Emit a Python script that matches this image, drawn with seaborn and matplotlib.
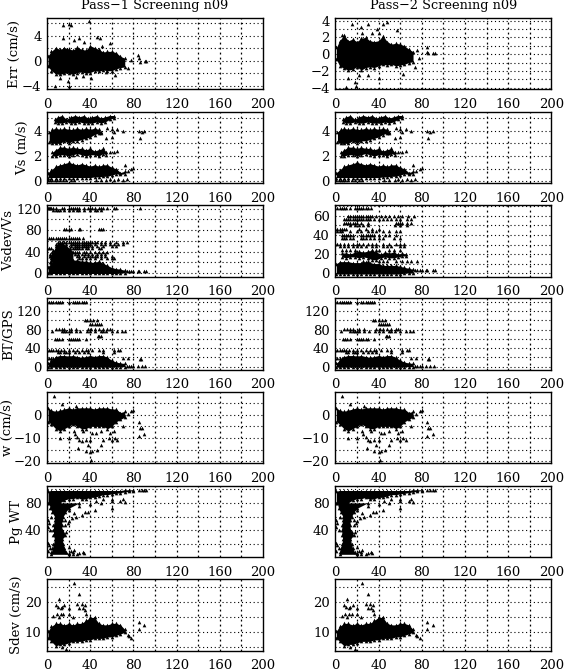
# Pass-1 / Pass-2 screening scatter panels.
# The solid clouds are kept as upper / lower edges, sparse points as x,y or rows.
import matplotlib
matplotlib.use("Agg")
import matplotlib.pyplot as plt
import seaborn as sns

cx = [1, 4, 8, 12, 16, 20, 24, 28, 32, 36, 40, 44, 48, 52, 56, 60, 64, 68, 72]

# Err, pass 1
err1_hi = [0.8, 1.5, 2.1, 1.8, 2.1, 1.9, 1.7, 2.2, 1.8, 1.7, 2.4, 2.1, 1.8, 1.4, 1.5, 1.5, 1.3, 0.7, 0.4]
err1_lo = [-0.9, -1.6, -2.1, -2.2, -2.0, -2.0, -2.2, -1.9, -1.8, -2.0, -1.9, -1.6, -1.7, -1.5, -1.6, -1.6, -1.3, -1.1, -1.0]
err1_px = [14.5, 20, 22, 39, 15, 25, 30, 34.5, 46, 49, 58, 51, 7.5, 19, 20, 12, 33.5, 41, 27, 63, 55, 75, 78, 84.5, 85, 86, 90.5, 92]
err1_py = [5.8, 5.9, 5.7, 6.4, 3.6, 3.4, 3.7, 3.0, 3.8, 3.7, 2.9, 2.4, -4, -3.3, -4.05, -2.7, -2.4, -2.8, -2.6, -2.3, -1.8, -1.2, 0.1, 0.9, 0.4, -0.2, 0, 0]

# Err, pass 2
err2_hi = [0.8, 1.6, 2.3, 1.6, 1.8, 1.5, 1.9, 2.0, 1.6, 1.5, 1.6, 2.2, 1.5, 1.2, 1.3, 1.2, 1.0, 0.6, 0.3]
err2_lo = [-0.6, -1.4, -1.7, -1.9, -1.8, -1.5, -1.9, -1.6, -1.5, -1.6, -1.4, -1.2, -1.3, -1.2, -1.4, -1.3, -1.2, -1.0, -0.9]
err2_px = [15, 24, 30, 25, 34, 39, 44, 48, 57, 40, 6.5, 9.5, 18, 19, 12, 40, 30, 22, 63, 74, 77.5, 76, 85, 85, 86, 90, 92]
err2_py = [3.6, 3.2, 3.6, 2.5, 2.5, 3.0, 3.6, 3.8, 2.9, 2.5, 2.3, -3.9, -3.3, -3.8, -2.8, -2.9, -2.5, -2.5, -2.4, -1.5, -0.5, 0.5, 0.9, 0.3, 0.1, 0.1, 0.1]

# Vs, same clusters in both passes
vs_a_hi = [0.7, 0.9, 1.2, 1.3, 1.4, 1.5, 1.4, 1.3, 1.4, 1.3, 1.2, 1.3, 1.2, 1.3, 1.3, 1.1, 1.0, 0.7, 0.8]
vs_a_lo = [0.3, 0.3, 0.3, 0.3, 0.3, 0.3, 0.3, 0.3, 0.3, 0.3, 0.3, 0.35, 0.35, 0.4, 0.4, 0.5, 0.6, 0.55, 0.6]
vs_b_x = [5, 8, 12, 16, 20, 24, 28, 32, 36, 40, 44, 48, 52, 55]
vs_b_hi = [2.3, 2.5, 2.7, 2.7, 2.6, 2.7, 2.6, 2.6, 2.5, 2.6, 2.4, 2.5, 2.6, 2.3]
vs_b_lo = [2.0, 2.0, 2.1, 2.1, 2.0, 2.1, 2.2, 2.1, 2.0, 2.1, 2.1, 2.0, 2.2, 2.1]
vs_c_x = [2, 5, 8, 12, 16, 20, 24, 28, 32, 36, 40, 44, 48, 50]
vs_c_hi = [3.9, 4.1, 4.2, 4.1, 4.2, 4.1, 4.1, 4.2, 4.1, 4.2, 4.1, 4.2, 4.1, 3.9]
vs_c_lo = [3.1, 3.0, 3.0, 3.0, 3.2, 3.0, 3.2, 3.2, 3.3, 3.4, 3.5, 3.7, 3.8, 3.8]
vs_d_x = [7, 10, 14, 18, 22, 26, 30, 34, 38, 42, 46, 50, 54, 58, 62]
vs_d_hi = [4.9, 5.1, 5.2, 4.9, 5.1, 5.2, 5.1, 5.2, 5.0, 5.1, 5.2, 5.0, 5.1, 5.2, 5.2]
vs_d_lo = [4.7, 4.6, 4.6, 4.7, 4.6, 4.6, 4.7, 4.6, 4.6, 4.6, 4.7, 4.6, 4.7, 4.9, 5.0]
vs_px = [55, 60, 62, 65, 70, 85, 88, 90, 86, 56, 60, 58, 62, 65, 75, 78, 80, 72, 1, 3, 5, 7, 9, 12, 15, 18, 22, 25, 45, 50, 55, 58, 62, 66, 70, 74]
vs_py = [3.4, 3.5, 3.9, 4.1, 4.0, 4.0, 3.9, 4.0, 3.4, 4.2, 4.1, 2.3, 2.3, 2.4, 0.8, 0.95, 1.05, 1.3, 0.1, 0.1, 0.1, 0.1, 0.1, 0.1, 0.1, 0.1, 0.1, 0.1, 0.1, 0.1, 0.1, 0.15, 0.1, 0.15, 0.1, 0.2]

# Vsdev/Vs, pass 1
vsd1_hi = [12, 18, 30, 34, 30, 26, 24, 24, 22, 22, 20, 20, 22, 18, 14, 10, 8, 7, 5]
vsd1_lo = [-1, -1, -1, -1, -1, -1, -1, -1, -1, -1, -1, -1, -1, -1, -1, -1, -1, 0, 0]
vsd1_col_x = [3, 6, 9, 12, 15, 18, 21, 24]
vsd1_col_hi = [32, 42, 50, 56, 54, 50, 46, 40]
vsd1_col_lo = [20, 20, 20, 20, 20, 20, 20, 20]
vsd1_rows = [
    (122, [1, 2, 3, 4, 6, 8, 14, 16, 20, 22, 24, 26, 28, 30, 34, 38, 40, 42, 44, 48, 50, 52, 56, 62, 64, 86]),
    (118, [6, 8, 10, 12, 16, 20, 24, 28, 30, 34, 40, 44, 46, 50]),
    (82, [16, 18, 20, 22, 30, 31, 48, 50, 52]),
    (66, [2, 4, 6, 8, 10, 12, 14, 16, 18, 20, 22, 24, 26, 28, 30, 33]),
    (58, [10, 12, 14, 16, 18, 20, 22, 24, 26, 28, 30, 32, 34, 36, 38, 40, 42, 44, 46, 50, 54, 58, 64, 70, 74]),
    (54, [8, 10, 14, 18, 22, 24, 26, 28, 30, 32, 34, 36, 38, 40, 44, 50, 54, 58, 62, 66, 70]),
    (50, [8, 12, 16, 22, 26, 28, 30, 32, 34, 36, 38, 42, 46, 52, 60, 64]),
    (46, [0, 2, 4, 8, 24, 26, 28, 30, 32, 36, 38, 42, 48, 50]),
    (40, [5, 26, 28, 30, 34, 36, 40, 44, 48, 52, 56]),
    (36, [3, 26, 29, 32, 35, 38, 42, 46, 50, 54]),
    (32, [3, 5, 28, 30, 34, 38, 42, 44, 46, 50, 54, 60]),
    (28, [4, 30, 32, 36, 40, 44, 50, 56, 60, 62]),
    (4, [74, 76, 78, 80, 84, 85, 90, 92]),
]

# Vsdev/Vs, pass 2
vsd2_hi = [10, 12, 12, 12, 11, 11, 11, 12, 11, 10, 10, 8, 8, 8, 8, 7, 6, 5, 4]
vsd2_lo = [-1, -1, -1, -1, -1, -1, -1, -1, -1, -1, -1, -1, -1, -1, -1, -1, 0, 0, 0]
vsd2_band_x = [6, 10, 14, 18, 22, 26, 30, 34, 38, 42, 46, 50, 54, 58, 62, 65]
vsd2_band_hi = [21, 21, 20, 22, 23, 22, 23, 24, 22, 20, 22, 21, 22, 20, 21, 20]
vsd2_band_lo = [17, 16, 17, 17, 16, 17, 16, 14, 14, 16, 17, 16, 16, 17, 18, 18]
vsd2_rows = [
    (68, [2, 4, 6, 8, 10, 14, 18, 20, 22, 24, 26, 28, 30, 33]),
    (60, [12, 14, 16, 18, 20, 22, 24, 26, 28, 30, 32, 34, 38, 42, 46, 50, 54, 58, 62, 67, 73]),
    (57, [8, 10, 12, 14, 16, 18, 20, 22, 24, 26, 28, 30, 32, 36, 40, 44, 48, 52, 56, 60, 66, 70]),
    (53, [8, 10, 12, 14, 16, 18, 20, 24, 30, 56, 58, 60, 62, 66, 70]),
    (50, [14, 18, 22, 26, 30, 55, 60, 66]),
    (46, [0, 2, 4, 6, 8, 10, 22, 28, 34, 40]),
    (44, [2, 4, 6, 14, 20, 24, 30, 34, 38, 44, 50, 56, 60]),
    (40, [6, 8, 10, 12, 14, 16, 24, 26, 28, 30, 32, 34, 36, 40, 46, 50, 56]),
    (37, [6, 8, 10, 14, 16, 24, 26, 28, 32, 36, 40, 44, 54, 60]),
    (31, [0, 2, 4, 8, 12, 16, 20, 22, 26, 30, 34, 38, 44, 50, 56, 60, 64]),
    (28, [4, 8, 12, 16, 20, 24, 28, 34, 38, 44, 48, 52, 60, 64]),
    (24, [6, 10, 14, 18, 34, 38, 40, 50, 54, 60]),
    (13, [26, 30, 40, 44, 48, 56, 62, 66, 70, 76]),
    (3, [74, 76, 78, 80, 84, 85, 90, 92]),
]

# BT/GPS, same in both passes
bt_hi = [8, 14, 22, 24, 24, 23, 24, 22, 20, 22, 24, 22, 24, 24, 20, 14, 10, 8, 7]
bt_lo = [-1, -1, -1, -1, -1, -1, -1, -1, -1, -1, -1, -1, -1, -1, -1, -1, 0, 0, 0]
bt_rows = [
    (140, [2, 4, 6, 8, 10, 12, 14, 20, 24, 26, 28, 30, 32, 34, 36]),
    (100, [35, 37, 40, 43, 46]),
    (92, [40, 42, 44, 46, 48, 50]),
    (82, [8, 11, 14, 16, 22, 27, 38, 41, 44, 48, 52, 56, 58]),
    (76, [5, 14, 16, 18, 20, 22, 27, 31, 37, 40, 44, 50, 52, 55, 60, 65, 69, 72]),
    (66, [47, 48, 50]),
    (60, [7, 9, 11, 14, 20, 22, 24, 26, 28, 30, 36]),
    (37, [0, 2, 4, 6, 8, 10, 13, 16, 20, 24, 28, 32, 36, 38, 42, 48, 52, 62, 66, 68]),
    (32, [10, 12, 16, 18, 20, 26, 30, 34, 38, 52, 62]),
    (18, [0, 2, 4, 6, 70, 75]),
    (16, [86, 87]),
    (1, [74, 76, 78, 80, 84, 88, 91]),
]

# w, same in both passes
w_hi = [3, 2, 1.5, 2, 2.5, 3, 2.5, 3, 3, 3, 3, 2.5, 3, 3, 3, 2.5, 2.5, 1, 1.5]
w_lo = [-3, -4, -6, -7, -6, -5, -4, -5, -6, -6, -5, -5, -5, -5, -6, -5, -3, -2, -1]
w_px = [6.5, 14, 27, 12, 20, 26, 28, 30, 32, 29, 36, 38, 40, 36, 40, 42, 46, 50, 41, 45, 50, 52, 57, 60, 63, 65, 58, 62, 70, 85, 86, 85, 90, 75, 78, 80, 88, 25, 33, 42]
w_py = [8.2, 4.5, 4, -10, -10, -8.5, -9.5, -11, -11.5, -14.3, -11, -13, -11, -15.5, -16, -15.5, -15, -13, -19.5, -8, -7, -11, -10, -11, -10, -10.7, -8, -7, -5, -3.2, -5.5, -9.3, -8.3, 0.5, 1.5, 2, -5.5, -7, -7, -8]

# Pg WT, same in both passes
pg_top_x = [1, 4, 8, 12, 16, 20, 24, 28, 32, 36, 40, 44, 48, 52, 56, 60, 64, 68, 72, 76, 80]
pg_top_hi = [97, 98, 98, 98, 98, 98, 98, 98, 98, 98, 98, 98, 98, 98, 98, 98, 98, 98, 99, 99, 99]
pg_top_lo = [80, 78, 76, 80, 84, 86, 86, 88, 85, 86, 88, 88, 90, 92, 92, 93, 94, 95, 96, 97, 98]
pg_col_y = [5, 8, 14, 20, 27, 33, 40, 48, 55, 60, 66, 72, 80]
pg_col_l = [4, 4, 5, 6, 7, 6, 6, 6, 7, 7, 5, 3, 2]
pg_col_r = [20, 18, 16, 15, 14, 17, 14, 13.5, 14, 15, 17, 20, 30]
pg_px = [1, 2, 1, 3, 1, 2, 3, 1, 4, 22, 24, 30, 33, 20, 24, 28, 34, 25, 20, 17, 20, 19, 23, 27, 32, 35, 38, 44, 60, 25, 30, 20, 17, 15, 18, 40, 50, 60, 60, 52, 70, 68, 72, 45, 85, 90, 88, 92]
pg_py = [55, 50, 45, 40, 22, 18, 14, 10, 60, 10, 8, 7, 8, 7, 5, 6, 7, 12, 15, 55, 53, 50, 58, 60, 63, 67, 67, 70, 72, 65, 75, 70, 48, 37, 38, 78, 80, 83, 85, 85, 85, 83, 81, 82, 99, 99, 99, 99]

# Sdev, same in both passes
sd_hi = [10.5, 12, 13, 13, 12.5, 13, 12.5, 13, 13, 14, 15, 15, 13, 12.5, 12.5, 13, 13, 12.5, 11]
sd_lo = [8, 7, 5.5, 6, 6, 6.5, 7, 7, 7, 7.5, 7.5, 8, 8, 8, 8.5, 8.5, 9, 9.5, 10]
sd_px = [25, 30, 8, 10, 11, 13, 14, 20, 28, 32, 35, 9, 11, 13, 15, 20, 24, 6, 30, 33, 36, 35, 16, 85, 90, 85, 14, 18, 75, 78, 76]
sd_py = [26.5, 22.8, 19, 18.5, 21, 18, 18.5, 18, 19.5, 19.5, 19, 16, 15, 16, 16, 16, 15, 15.5, 18, 18, 16, 17.5, 19, 13.5, 12.5, 11, 5, 4.5, 9, 8.2, 8.7]

# axis setup: left edges, tops, y limits etc
x_ticks = [0, 40, 80, 120, 160, 200]
x_grid = [20, 40, 60, 80, 100, 120, 140, 160, 180]
row_tops = [17.7, 111.7, 205, 298, 391.7, 485.7, 579]
row_h = 71.7
col_lefts = [47, 335.3]
col_w = 216


def rows_xy(rows):
    xs, ys = [], []
    for y, row in rows:
        xs += row
        ys += [y] * len(row)
    return xs, ys


def dots(ax, x, y):
    sns.scatterplot(x=x, y=y, ax=ax, marker="^", s=7, color="black", linewidth=0, legend=False, zorder=3)


def band(ax, x, lo, hi):
    ax.fill_between(x, lo, hi, color="black", linewidth=0, zorder=3)
    dots(ax, x, hi)
    dots(ax, x, lo)


def side_band(ax, y, left, right):
    ax.fill_betweenx(y, left, right, color="black", linewidth=0, zorder=3)
    dots(ax, left, y)
    dots(ax, right, y)


def make_ax(fig, col, row, ylim, major, step, label=None, label_px=None):
    ax = fig.add_axes([col_lefts[col] / 568, 1 - (row_tops[row] + row_h) / 672, col_w / 568, row_h / 672])
    ax.set_xlim(0, 200)
    ax.set_ylim(*ylim)
    ax.set_xticks(x_ticks)
    ax.set_yticks(major)
    # dotted grid goes at half of the labelled spacing
    for gx in x_grid:
        ax.axvline(gx, color="black", lw=0.9, ls=(0, (1.5, 2.5)), zorder=1)
    g = major[0] - step * 10
    while g < ylim[1]:
        if g > ylim[0]:
            ax.axhline(g, color="black", lw=0.8, ls=(0, (1, 2.5)), zorder=1)
        g += step
    ax.tick_params(direction="in", length=3, width=0.8, labelsize=9.5, pad=4)
    ax.tick_params(axis="x", pad=6)
    for s in ax.spines.values():
        s.set_linewidth(1.0)
        s.set_visible(True)
    if label:
        ax.set_ylabel(label, fontsize=9.5)
        # ylabel anchors on its right side, text is about 12 px thick
        ax.yaxis.set_label_coords((label_px + 6 - col_lefts[col]) / col_w, 0.5)
    return ax


sns.set_theme(style="white")
plt.rcParams["font.family"] = ["DejaVu Serif"]
plt.rcParams["text.color"] = "black"
plt.rcParams["axes.labelcolor"] = "black"
plt.rcParams["xtick.color"] = "black"
plt.rcParams["ytick.color"] = "black"
plt.rcParams["axes.edgecolor"] = "black"

fig = plt.figure(figsize=(5.68, 6.72), dpi=100)

for col in [0, 1]:
    # Err
    if col == 0:
        ax = make_ax(fig, col, 0, (-4.6, 6.9), [-4, 0, 4], 2, "Err (cm/s)", 15)
        band(ax, cx, err1_lo, err1_hi)
        dots(ax, err1_px, err1_py)
        ax.set_title("Pass\u22121 Screening n09", fontsize=9.3, pad=6)
    else:
        ax = make_ax(fig, col, 0, (-4.2, 4.35), [-4, -2, 0, 2, 4], 1)
        band(ax, cx, err2_lo, err2_hi)
        dots(ax, err2_px, err2_py)
        ax.set_title("Pass\u22122 Screening n09", fontsize=9.3, pad=6)

    # Vs
    ax = make_ax(fig, col, 1, (-0.16, 5.5), [0, 2, 4], 1, "Vs (m/s)" if col == 0 else None, 23)
    band(ax, cx, vs_a_lo, vs_a_hi)
    band(ax, vs_b_x, vs_b_lo, vs_b_hi)
    band(ax, vs_c_x, vs_c_lo, vs_c_hi)
    band(ax, vs_d_x, vs_d_lo, vs_d_hi)
    dots(ax, vs_px, vs_py)

    # Vsdev/Vs
    if col == 0:
        ax = make_ax(fig, col, 2, (-7, 127), [0, 40, 80, 120], 20, "Vsdev/Vs", 9)
        band(ax, cx, vsd1_lo, vsd1_hi)
        band(ax, vsd1_col_x, vsd1_col_lo, vsd1_col_hi)
        dots(ax, *rows_xy(vsd1_rows))
    else:
        ax = make_ax(fig, col, 2, (-3.8, 71.5), [0, 20, 40, 60], 10)
        band(ax, cx, vsd2_lo, vsd2_hi)
        band(ax, vsd2_band_x, vsd2_band_lo, vsd2_band_hi)
        dots(ax, *rows_xy(vsd2_rows))

    # BT/GPS
    ax = make_ax(fig, col, 3, (-6.4, 148), [0, 40, 80, 120], 20, "BT/GPS" if col == 0 else None, 9)
    band(ax, cx, bt_lo, bt_hi)
    dots(ax, *rows_xy(bt_rows))

    # w
    ax = make_ax(fig, col, 4, (-21, 10), [-20, -10, 0], 5, "w (cm/s)" if col == 0 else None, 8)
    band(ax, cx, w_lo, w_hi)
    dots(ax, w_px, w_py)

    # Pg WT
    ax = make_ax(fig, col, 5, (0.5, 105), [40, 80], 20, "Pg WT" if col == 0 else None, 17)
    band(ax, pg_top_x, pg_top_lo, pg_top_hi)
    side_band(ax, pg_col_y, pg_col_l, pg_col_r)
    dots(ax, pg_px, pg_py)

    # Sdev
    ax = make_ax(fig, col, 6, (3.9, 27.8), [10, 20], 5, "Sdev (cm/s)" if col == 0 else None, 17)
    band(ax, cx, sd_lo, sd_hi)
    dots(ax, sd_px, sd_py)

fig.savefig("out.png", dpi=100)
